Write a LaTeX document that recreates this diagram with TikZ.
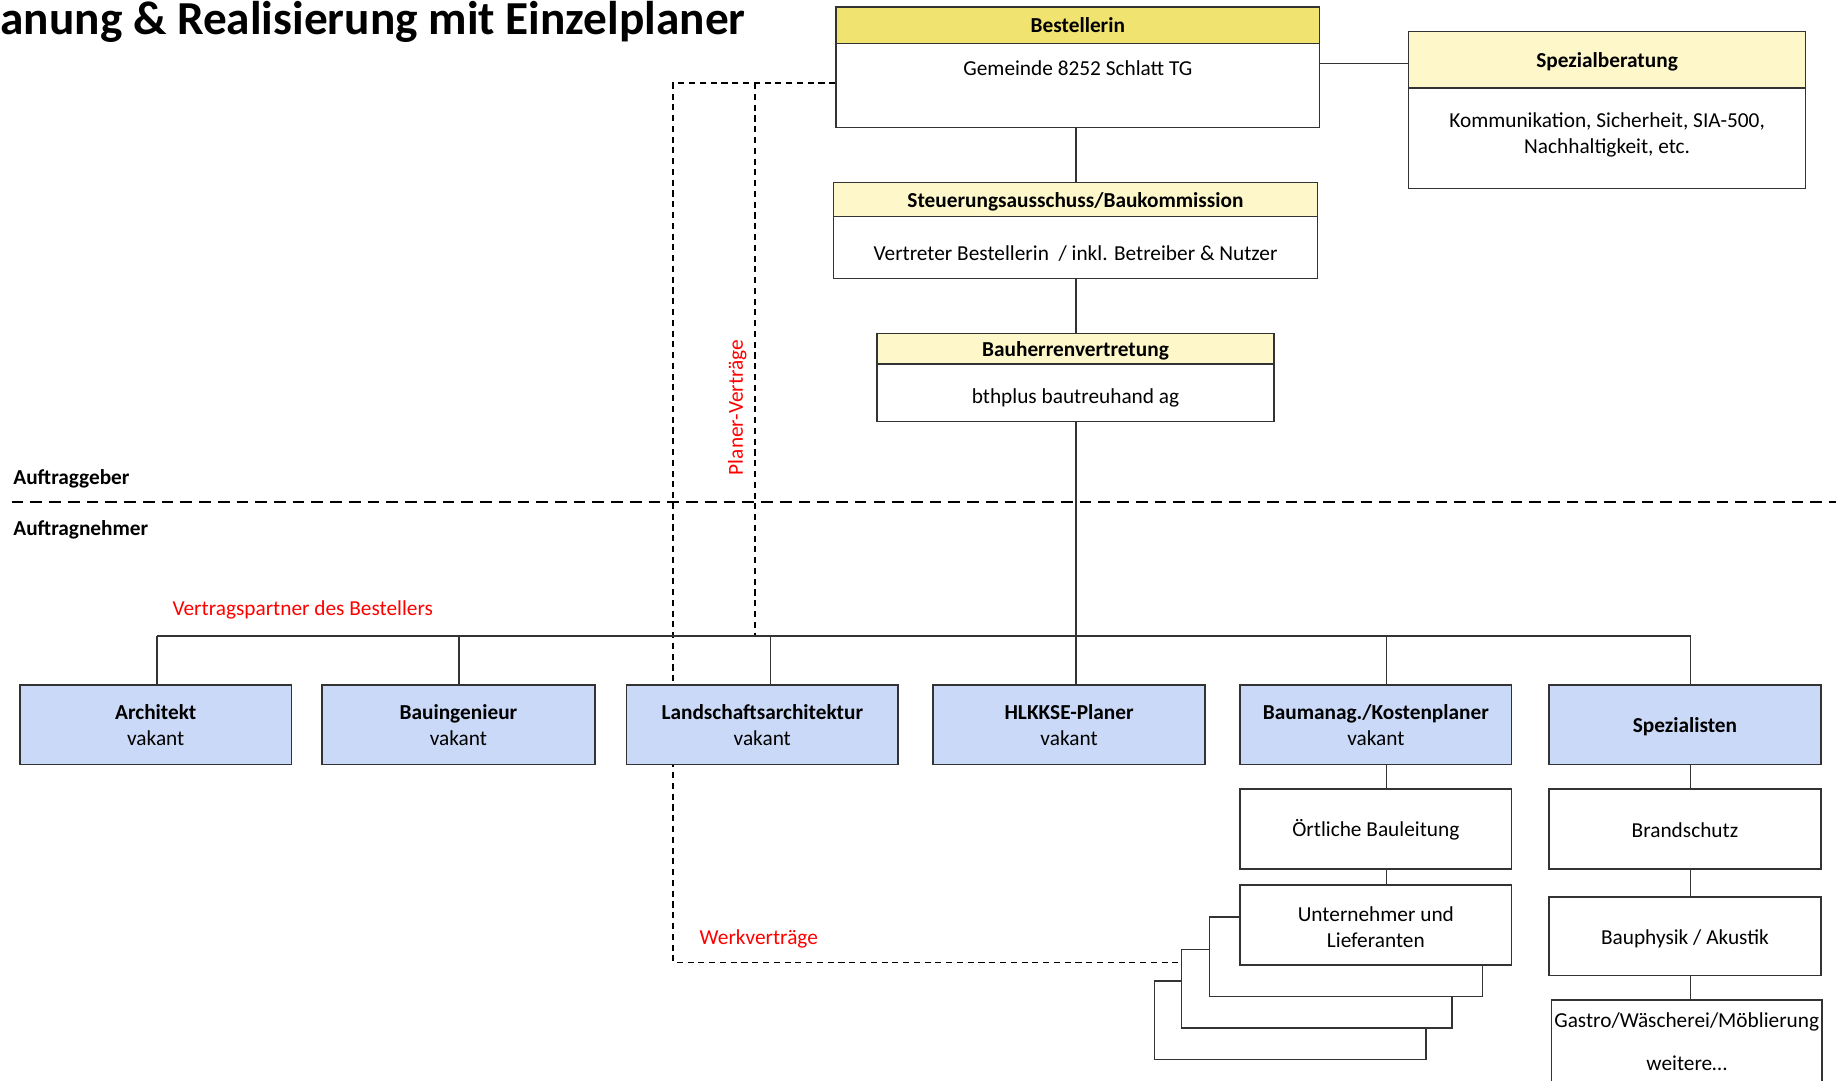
\documentclass[tikz,border=0pt]{standalone}
\usepackage{fontspec}
\setmainfont{Carlito}
\usetikzlibrary{fit,calc}
\definecolor{hdrA}{HTML}{F0E370}
\definecolor{hdrB}{HTML}{FEF7CA}
\definecolor{blu}{HTML}{C9D9F7}
\definecolor{ln}{HTML}{333333}
\definecolor{rd}{HTML}{FF0000}
\tikzset{
  bx/.style={draw=ln, line width=0.65pt, fill=white, inner sep=0pt},
  hdA/.style={draw=ln, line width=0.65pt, fill=hdrA, inner sep=0pt},
  hdB/.style={draw=ln, line width=0.65pt, fill=hdrB, inner sep=0pt},
  bl/.style={draw=ln, line width=0.65pt, fill=blu, inner sep=0pt},
  txt/.style={inner sep=0pt, font=\fontsize{9.1}{11}\selectfont, align=center},
  btxt/.style={inner sep=0pt, font=\fontsize{9.1}{11}\selectfont\bfseries, align=center},
  rtxt/.style={inner sep=0pt, font=\fontsize{9.1}{11}\selectfont, text=rd},
  one/.style={text height=8.3pt, text depth=1.9pt},
  conn/.style={draw=ln, line width=0.55pt},
  sdash/.style={draw=black, line width=0.75pt, dash pattern=on 2.6pt off 2pt},
  ldash/.style={draw=black, line width=0.9pt, dash pattern=on 5pt off 3pt},
}
\begin{document}
\begin{tikzpicture}[x=0.5pt,y=-0.5pt]
\useasboundingbox (0,0) rectangle (1568,923);
\fill[white] (0,0) rectangle (1568,923);

% title
\node[inner sep=0pt, anchor=west, font=\fontsize{20.2}{22}\selectfont\bfseries] (title) at (0,19) {anung \& Realisierung mit Einzelplaner};

% coordinates
\coordinate (dA) at (575,71);
\coordinate (dB) at (645,71);
\coordinate (bus) at (919,543);
\coordinate (dC) at (575,822);

% dashed divider
\draw[ldash] (10,429) coordinate (divL) -- (1568,429) coordinate (divR);
\node[btxt, one, anchor=west] (ag) at (11,407) {Auftraggeber};
\node[btxt, one, anchor=west] (an) at (11,451) {Auftragnehmer};

% boxes - top
\node[bx, fit={(714,6)(1127,109)}] (best) {};
\node[hdA, fit={(714,6)(1127,37)}] (bestH) {};
\node[btxt, one] (bestT) at (920.5,21) {Bestellerin};
\node[txt, one] (bestB) at (920.5,58) {Gemeinde 8252 Schlatt TG};

\node[bx, fit={(1203,27)(1542,161)}] (spb) {};
\node[hdB, fit={(1203,27)(1542,75)}] (spbH) {};
\node[btxt, one] (spbT) at (1372.5,51) {Spezialberatung};
\node[txt] (spbB) at (1372.5,115) {Kommunikation, Sicherheit, SIA-500,\\Nachhaltigkeit, etc.};

\node[bx, fit={(712,156)(1125,238)}] (steu) {};
\node[hdB, fit={(712,156)(1125,185)}] (steuH) {};
\node[btxt, one] (steuT) at (918.5,171) {Steuerungsausschuss/Baukommission};
\node[txt, one] (steuB) at (918.5,216) {Vertreter Bestellerin~ / inkl. Betreiber \& Nutzer};

\node[bx, fit={(749,285)(1088,360)}] (bhv) {};
\node[hdB, fit={(749,285)(1088,311)}] (bhvH) {};
\node[btxt, one] (bhvT) at (918.5,298) {Bauherrenvertretung};
\node[txt, one] (bhvB) at (918.5,338) {bthplus bautreuhand ag};

% connectors top
\draw[conn] (best.east |- 0,54) -- (spb.west |- 0,54);
\draw[conn] (bus |- best.south) -- (bus |- steu.north);
\draw[conn] (bus |- steu.south) -- (bus |- bhv.north);
\draw[conn] (bus |- bhv.south) -- (bus);

% dashed contract lines
\draw[sdash] (best.west |- dA) -- (dA) -- (dC) -- (1009,822) coordinate (dE);
\draw[sdash] (dB) -- (dB |- bus);
\node[rtxt, one, rotate=90] (pv) at (628,348) {Planer-Verträge};
\node[rtxt, one] (wv) at (648,800) {Werkverträge};
\node[rtxt, one, anchor=west] (vp) at (147,519) {Vertragspartner des Bestellers};

% bus
\draw[conn, line width=0.8pt] (134,543) coordinate (busL) -- (1444,543) coordinate (busR);
\coordinate (x1) at (134,585);
\coordinate (x2) at (392,585);
\coordinate (x3) at (658,585);
\coordinate (x4) at (919,585);
\coordinate (x5) at (1184,585);
\coordinate (x6) at (1444,585);
\foreach \i in {1,...,6} {\draw[conn] (x\i |- bus) -- (x\i);}

% blue boxes
\node[bl, fit={(17,585)(249,653)}] (arch) {};
\node[btxt, one] (archT) at (133,608) {Architekt};
\node[txt, one] (archV) at (133,630) {vakant};
\node[bl, fit={(275,585)(508,653)}] (bing) {};
\node[btxt, one] (bingT) at (391.5,608) {Bauingenieur};
\node[txt, one] (bingV) at (391.5,630) {vakant};
\node[bl, fit={(535,585)(767,653)}] (land) {};
\node[btxt, one] (landT) at (651,608) {Landschaftsarchitektur};
\node[txt, one] (landV) at (651,630) {vakant};
\node[bl, fit={(797,585)(1029,653)}] (hlk) {};
\node[btxt, one] (hlkT) at (913,608) {HLKKSE-Planer};
\node[txt, one] (hlkV) at (913,630) {vakant};
\node[bl, fit={(1059,585)(1291,653)}] (bm) {};
\node[btxt, one] (bmT) at (1175,608) {Baumanag./Kostenplaner};
\node[txt, one] (bmV) at (1175,630) {vakant};
\node[bl, fit={(1323,585)(1555,653)}] (spz) {};
\node[btxt, one] (spzT) at (1439,619) {Spezialisten};

% Baumanag column
\node[bx, fit={(1059,674)(1291,742)}] (oeb) {};
\node[txt, one] (oebT) at (1175,708) {Örtliche Bauleitung};
\node[bx, fit={(986,838)(1218,905)}] (st4) {};
\node[bx, fit={(1009,811)(1240,878)}] (st3) {};
\node[bx, fit={(1033,783)(1266,851)}] (st2) {};
\node[bx, fit={(1059,756)(1291,824)}] (unt) {};
\node[txt] (untT) at (1175,792) {Unternehmer und\\Lieferanten};
\draw[conn] (x5 |- bm.south) -- (x5 |- oeb.north);
\draw[conn] (x5 |- oeb.south) -- (x5 |- unt.north);

% Spezialisten column
\node[bx, fit={(1323,674)(1555,742)}] (brs) {};
\node[txt, one] (brsT) at (1439,709) {Brandschutz};
\node[bx, fit={(1323,766)(1555,833)}] (bph) {};
\node[txt, one] (bphT) at (1439,800) {Bauphysik / Akustik};
\fill[white] (1325,854) rectangle (1556,930);
\draw[draw=ln, line width=0.65pt] (1325,930) -- (1325,854) coordinate (gsTL) -- (1556,854) -- (1556,930);
\coordinate (gs) at (1444,854);
\node[txt, one] (gsT) at (1440.5,871) {Gastro/Wäscherei/Möblierung};
\node[txt, one] (gsW) at (1440.5,908) {weitere…};
\draw[conn] (x6 |- spz.south) -- (x6 |- brs.north);
\draw[conn] (x6 |- brs.south) -- (x6 |- bph.north);
\draw[conn] (x6 |- bph.south) -- (gs);
\end{tikzpicture}
\end{document}
